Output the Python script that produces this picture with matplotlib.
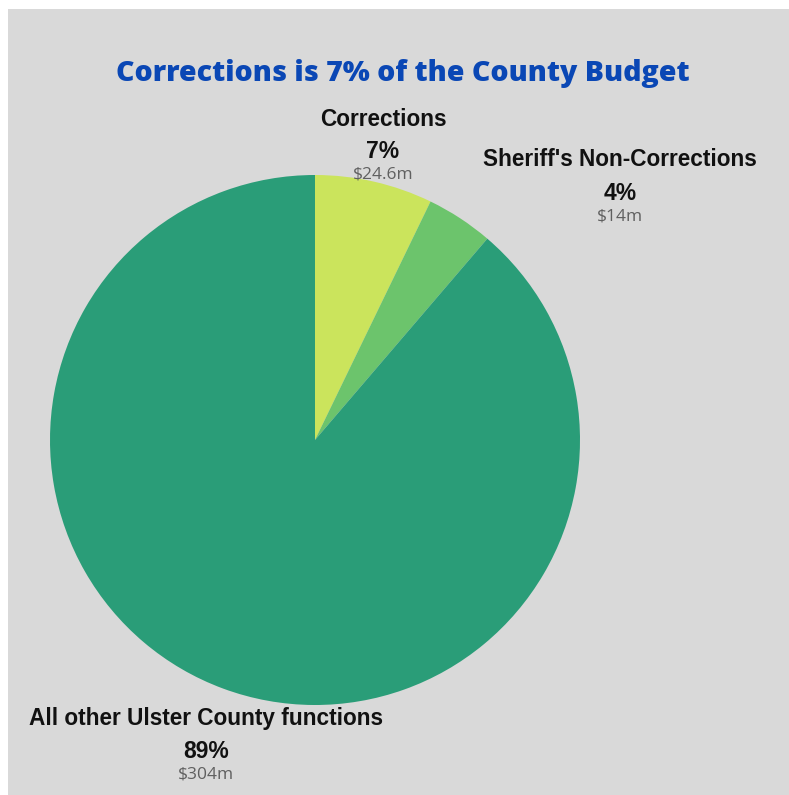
import matplotlib
matplotlib.use("Agg")
import matplotlib.pyplot as plt
from matplotlib.patches import Rectangle

categories = ["Corrections", "Sheriff's Non-Corrections", "All other Ulster County functions"]
amounts = [24.6, 14, 304]          # $ millions
amount_labels = ["$24.6m", "$14m", "$304m"]
colors = ["#cbe45c", "#6cc46c", "#2a9d78"]
title = "Corrections is 7% of the County Budget"

W, H = 789, 795
fig = plt.figure(figsize=(W / 100, H / 100), dpi=100)
fig.patch.set_facecolor("white")
bg = Rectangle((8 / W, 0), 1 - 8 / W, 1 - 9 / H, transform=fig.transFigure,
               facecolor="#d9d9d9", edgecolor="none", zorder=-10)
fig.add_artist(bg)

cx, cy, r = 315, 440, 265
ax = fig.add_axes([(cx - r) / W, (H - cy - r) / H, 2 * r / W, 2 * r / H])
ax.set_zorder(5)
ax.pie(amounts, colors=colors, startangle=90, counterclock=False,
       wedgeprops=dict(linewidth=0))
ax.set_xlim(-1, 1)
ax.set_ylim(-1, 1)
ax.set_aspect("equal")
ax.axis("off")

def px(x, y):
    return x / W, 1 - y / H

fig.text(*px(403, 73), title, ha="center", va="center", fontsize=20.5,
         fontweight="heavy", family="Open Sans", color="#0a47b5", zorder=10)

total = sum(amounts)
label_pos = [(383, 119), (620, 160), (206, 718)]
for name, amt, albl, (x, y) in zip(categories, amounts, amount_labels, label_pos):
    pct = f"{round(amt / total * 100)}%"
    fig.text(*px(x, y), name, ha="center", va="center", fontsize=16.3,
             fontweight="bold", family="Liberation Sans", color="#111111", zorder=10)
    fig.text(*px(x, y + 33), pct, ha="center", va="center", fontsize=16.5,
             fontweight="bold", family="Liberation Sans", color="#111111", zorder=10)
    fig.text(*px(x, y + 56), albl, ha="center", va="center", fontsize=12.5,
             fontweight="normal", family="Open Sans", color="#606060", zorder=10)

fig.savefig("out.png", dpi=100)
